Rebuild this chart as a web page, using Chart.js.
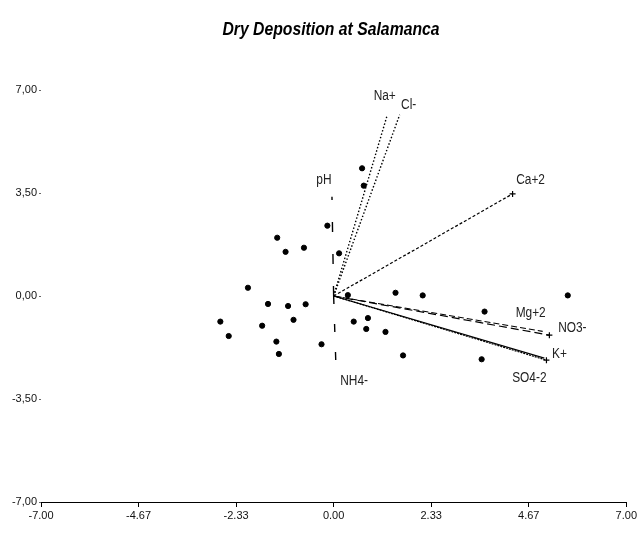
<!DOCTYPE html>
<html>
<head>
<meta charset="utf-8">
<script src="https://cdn.jsdelivr.net/npm/chart.js@4.4.1/dist/chart.umd.min.js"></script>
<style>
    html, body { margin: 0; padding: 0; background: #fff; }
    #wrap { width: 639px; height: 535px; }
</style>
</head>
<body>
<div id="wrap"><canvas id="biplot"></canvas></div>
<script>
// axis ticks
const xTicks = [-7, -4.667, -2.333, 0, 2.333, 4.667, 7];
const xTickLabels = ['-7.00', '-4.67', '-2.33', '0.00', '2.33', '4.67', '7.00'];
const yTicks = [-7, -3.5, 0, 3.5, 7];
const yTickLabels = ['-7,00', '-3,50', '0,00', '3,50', '7,00'];

// sample scores
const sampleX = [-0.15, -1.35, -1.15, -0.71, 0.13, -2.05, 0.34, 1.48, -1.57, -1.09, -0.67, -2.71, -2.51, -1.71, -0.96,
                 -1.37, -1.31, -0.29, 0.48, 0.82, 0.78, 1.24, 1.66, 0.68, 0.72, 3.61, 5.60, 3.54, 2.13];
const sampleY = [2.39, 1.98, 1.50, 1.64, 1.45, 0.28, 0.03, 0.11, -0.27, -0.34, -0.28, -0.87, -1.36, -1.01, -0.81,
                 -1.55, -1.97, -1.64, -0.87, -0.75, -1.12, -1.22, -2.02, 4.34, 3.75, -0.53, 0.02, -2.15, 0.02];

// variable loadings (vector tips)
const vectorNames = ['Na+', 'Cl-', 'Ca+2', 'Mg+2', 'NO3-', 'K+', 'SO4-2', 'pH', 'NH4-'];
const vectorX = [1.27, 1.58, 4.28, 5.00, 5.16, 5.09, 5.04, -0.04, 0.06];
const vectorY = [6.09, 6.16, 3.47, -1.20, -1.33, -2.18, -2.11, 3.37, -2.60];

const FONT = "'Liberation Sans', Arial, sans-serif";

// line style per vector
const dashes = [[1.5, 2], [1.5, 2], [3, 2], [6, 3], [8, 4], [2, 1], [], [10, 22], [8, 20]];
const widths = [1.4, 1.4, 1.2, 1.2, 1.2, 1.2, 1.2, 1.4, 1.4];
const tipMarks = [false, false, true, false, true, true, false, false, false];
// label offset from the tip, px
const labelOff = [[-2, -21], [9, -10], [18, -14], [-12, -18], [23, -7], [13, -6], [-15, 20], [-8, -17], [18, 9]];

const datasets = [{
    label: 'samples',
    data: sampleX.map((x, i) => ({ x: x, y: sampleY[i] })),
    backgroundColor: '#000',
    borderColor: '#000',
    pointRadius: 2.6,
    showLine: false
}];

vectorNames.forEach((name, i) => {
    datasets.push({
        label: name,
        data: [{ x: 0, y: 0 }, { x: vectorX[i], y: vectorY[i] }],
        showLine: true,
        borderColor: '#000',
        borderWidth: widths[i],
        borderDash: dashes[i],
        pointStyle: 'cross',
        pointRadius: [0, tipMarks[i] ? 3 : 0],
        pointBorderColor: '#000',
        pointBorderWidth: 1.2,
        fill: false
    });
});

// narrow text, the original uses a condensed face
function narrowText(ctx, text, x, y, sx) {
    ctx.save();
    ctx.translate(x, y);
    ctx.scale(sx, 1);
    ctx.fillText(text, 0, 0);
    ctx.restore();
}

const vectorLabels = {
    id: 'vectorLabels',
    afterDatasetsDraw(chart) {
        const ctx = chart.ctx;
        const xs = chart.scales.x, ys = chart.scales.y;
        ctx.save();
        ctx.font = '14px ' + FONT;
        ctx.fillStyle = '#222';
        ctx.textAlign = 'center';
        ctx.textBaseline = 'middle';
        vectorNames.forEach((name, i) => {
            const px = xs.getPixelForValue(vectorX[i]) + labelOff[i][0];
            const py = ys.getPixelForValue(vectorY[i]) + labelOff[i][1];
            narrowText(ctx, name, px, py, 0.85);
        });
        // title
        ctx.font = 'italic bold 18px ' + FONT;
        ctx.fillStyle = '#000';
        narrowText(ctx, 'Dry Deposition at Salamanca', 331, 30, 0.875);
        ctx.restore();
    }
};

new Chart(document.getElementById('biplot'), {
    type: 'scatter',
    data: { datasets: datasets },
    options: {
        responsive: true,
        maintainAspectRatio: false,
        animation: false,
        layout: { padding: { top: 90, right: 12, bottom: 0, left: 0 } },
        plugins: {
            legend: { display: false },
            tooltip: { enabled: false }
        },
        scales: {
            x: {
                type: 'linear',
                min: -7, max: 7,
                afterBuildTicks: (s) => { s.ticks = xTicks.map(v => ({ value: v })); },
                afterFit: (s) => { s.height = 33; },
                grid: { drawOnChartArea: false, tickLength: 5, color: '#000' },
                border: { display: true, color: '#000', width: 1 },
                ticks: {
                    autoSkip: false,
                    maxRotation: 0,
                    padding: 2,
                    color: '#111',
                    font: { family: FONT, size: 11 },
                    callback: (v, i) => xTickLabels[i]
                }
            },
            y: {
                type: 'linear',
                min: -7, max: 7,
                afterBuildTicks: (s) => { s.ticks = yTicks.map(v => ({ value: v })); },
                afterFit: (s) => { s.width = 41; },
                grid: { drawOnChartArea: false, tickLength: 2, color: '#666' },
                border: { display: false },
                ticks: {
                    autoSkip: false,
                    padding: 2,
                    color: '#111',
                    font: { family: FONT, size: 11 },
                    callback: (v, i) => yTickLabels[i]
                }
            }
        }
    },
    plugins: [vectorLabels]
});
</script>
</body>
</html>
